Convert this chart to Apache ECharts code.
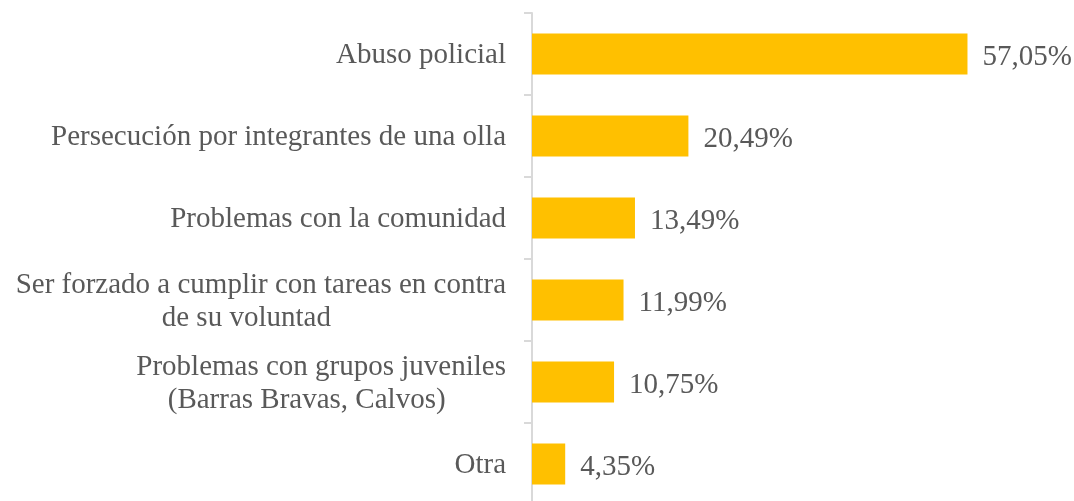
<!DOCTYPE html>
<html>
<head>
<meta charset="utf-8">
<script src="https://cdn.jsdelivr.net/npm/echarts@6/dist/echarts.min.js"></script>
<style>
  html, body { margin: 0; padding: 0; background: #fff; }
  #chart { width: 1074px; height: 501px; }
</style>
</head>
<body>
<div id="chart"></div>
<script>
// categorías (de arriba hacia abajo)
const categories = [
  "Abuso policial",
  "Persecución por integrantes de una olla",
  "Problemas con la comunidad",
  "Ser forzado a cumplir con tareas en contra\nde su voluntad    ",
  "Problemas con grupos juveniles\n(Barras Bravas, Calvos)    ",
  "Otra"
];
// porcentajes
const values = [57.05, 20.49, 13.49, 11.99, 10.75, 4.35];

const chart = echarts.init(document.getElementById("chart"));

const option = {
  animation: false,
  textStyle: { fontFamily: "Liberation Serif, Times New Roman, serif" },
  grid: {
    left: 532,
    right: 84,
    top: 13,
    height: 492,
    containLabel: false,
    outerBoundsMode: "none"
  },
  xAxis: {
    type: "value",
    min: 0,
    max: 60,
    show: false
  },
  yAxis: {
    type: "category",
    data: categories,
    inverse: true,
    axisLine: { lineStyle: { color: "#D9D9D9", width: 2 } },
    axisTick: { show: true, length: 8, lineStyle: { color: "#D9D9D9", width: 2 } },
    axisLabel: {
      margin: 26,
      formatter: (v) => v.split("\n").map((s) => "{c|" + s + "}").join("\n"),
      rich: {
        c: {
          align: "center",
          fontSize: 29,
          lineHeight: 33,
          padding: [3, 0, 0, 0],
          color: "#595959",
          fontFamily: "Liberation Serif, Times New Roman, serif"
        }
      }
    }
  },
  series: [
    {
      type: "bar",
      data: values,
      barWidth: "50%",
      itemStyle: { color: "#FFC000" },
      label: {
        show: true,
        position: "right",
        distance: 15,
        offset: [0, 3],
        fontSize: 29,
        color: "#595959",
        fontFamily: "Liberation Serif, Times New Roman, serif",
        formatter: (p) => p.value.toFixed(2).replace(".", ",") + "%"
      }
    }
  ]
};

chart.setOption(option);
</script>
</body>
</html>
